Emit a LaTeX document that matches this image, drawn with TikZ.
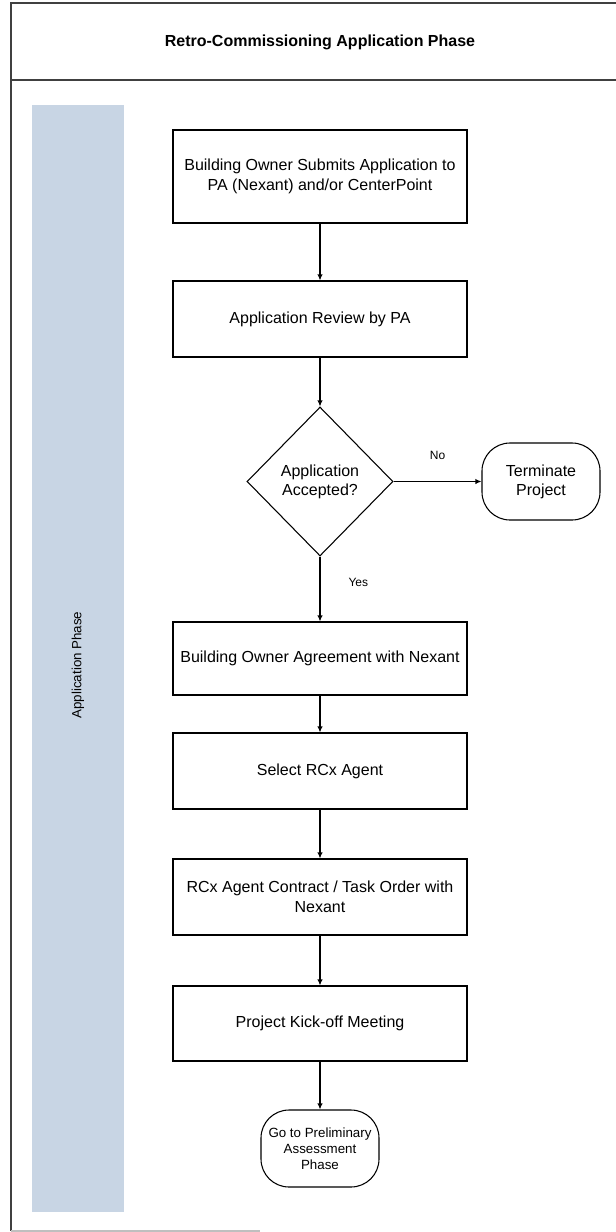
\documentclass[tikz,border=0pt]{standalone}
\usepackage{fontspec}
\setmainfont{Liberation Sans}
\usepackage{tikz}
\usepackage{xcolor}
\usetikzlibrary{positioning,shapes,shapes.geometric,arrows.meta}

\definecolor{lanefill}{RGB}{200,213,228}

\begin{document}
\begin{tikzpicture}[x=0.75pt,y=0.75pt]
\tikzstyle{every node}+=[inner sep=0pt]
\tikzstyle{stepbox}=[draw=black, line width=0.8pt, minimum width=220.5pt, align=center, font=\fontsize{12}{15}\selectfont]
\tikzstyle{endbox}=[draw=black, line width=0.8pt, rounded corners=21pt, minimum width=88.5pt, minimum height=57.75pt, align=center]
\tikzstyle{flow}=[draw=black, line width=0.8pt, -{Latex[length=4.5pt,width=4pt]}]
\tikzstyle{frame}=[draw=black!75, line width=1.2pt]
\useasboundingbox (0,0) rectangle (616,-1232);
% swim lane and frame
\fill [lanefill] (32,-105) rectangle (124,-1212);
\draw [frame] (11,-1231) -- (11,-3) -- (617,-3);
\draw [frame] (11,-80) -- (617,-80);
\draw [black!25, line width=1.2pt] (11,-1231) -- (260,-1231);
\node (title) at (320,-42) {\fontsize{12}{14}\selectfont\bfseries Retro-Commissioning Application Phase};
\node [rotate=90] (lanelabel) at (78,-665) {\fontsize{10}{12}\selectfont Application Phase};
% steps
\node [stepbox, minimum height=69.75pt] (submit) at (320,-176.5) {Building Owner Submits Application to\\PA (Nexant) and/or CenterPoint};
\node [stepbox, minimum height=57pt] (review) at (320,-319) {Application Review by PA};
\node [draw=black, line width=0.8pt, diamond, minimum width=109.5pt, minimum height=111.75pt, align=center, font=\fontsize{12}{14.4}\selectfont] (accepted) at (320,-481.5) {Application\\Accepted?};
\node [endbox, font=\fontsize{12}{14.4}\selectfont] (terminate) at (541,-481.5) {Terminate\\Project};
\node [stepbox, minimum height=54.75pt] (agreement) at (320,-658.5) {Building Owner Agreement with Nexant};
\node [stepbox, minimum height=57pt] (select) at (320,-771) {Select RCx Agent};
\node [stepbox, minimum height=57pt] (contract) at (320,-897) {RCx Agent Contract / Task Order with\\Nexant};
\node [stepbox, minimum height=56.25pt] (kickoff) at (320,-1023.5) {Project Kick-off Meeting};
\node [endbox, font=\fontsize{10}{12}\selectfont] (nextphase) at (320,-1148.5) {Go to Preliminary\\Assessment\\Phase};
% connectors
\draw [flow] (submit) -- (review);
\draw [flow] (review) -- (accepted);
\draw [flow] (accepted) -- (terminate) node [midway, above=16pt, font=\fontsize{9}{11}\selectfont] (nolabel) {No};
\draw [flow] (accepted) -- (agreement) node [pos=0.4, right=21pt, font=\fontsize{9}{11}\selectfont] (yeslabel) {Yes};
\draw [flow] (agreement) -- (select);
\draw [flow] (select) -- (contract);
\draw [flow] (contract) -- (kickoff);
\draw [flow] (kickoff) -- (nextphase);
\end{tikzpicture}
\end{document}
